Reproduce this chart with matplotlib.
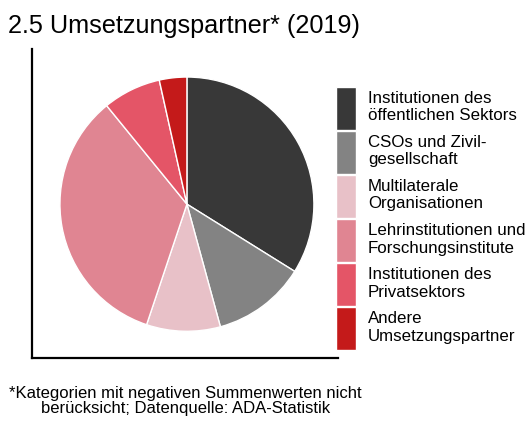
import matplotlib
matplotlib.use("Agg")
import matplotlib.pyplot as plt

plt.rcParams['font.family'] = ['Liberation Sans', 'DejaVu Sans']

# Anteil der Umsetzungspartner in %
categories = [
    "Institutionen des\nöffentlichen Sektors",
    "CSOs und Zivil-\ngesellschaft",
    "Multilaterale\nOrganisationen",
    "Lehrinstitutionen und\nForschungsinstitute",
    "Institutionen des\nPrivatsektors",
    "Andere\nUmsetzungspartner",
]
shares = [33.9, 11.9, 9.4, 34.0, 7.4, 3.5]
colors = ["#383838", "#838383", "#e8c1c8", "#e08592", "#e45567", "#c41a1a"]

fig = plt.figure(figsize=(5.29, 4.23), dpi=100)
ax = fig.add_axes([0.0605, 0.1537, 0.5785, 0.7303])

wedges, _ = ax.pie(shares, colors=colors, startangle=90, counterclock=False,
                   wedgeprops=dict(edgecolor="white", linewidth=1.0))
ax.set_frame_on(True)
ax.set_axis_on()
ax.set_xlim(-1.22, 1.19)
ax.set_ylim(-1.21, 1.22)
ax.set_aspect('auto')
for side in ("top", "right"):
    ax.spines[side].set_visible(False)
for side in ("left", "bottom"):
    ax.spines[side].set_visible(True)
    ax.spines[side].set_linewidth(1.6)
    ax.spines[side].set_color("black")
ax.set_xticks([])
ax.set_yticks([])

fig.text(0.015, 0.922, "2.5 Umsetzungspartner* (2019)", fontsize=18.2,
         ha="left", va="baseline")

fig.legend(wedges, categories, loc="upper left",
           bbox_to_anchor=(0.636, 0.795), frameon=False, fontsize=12.2,
           handlelength=1.18, handleheight=3.55, handletextpad=0.68,
           labelspacing=0.05, borderpad=0, borderaxespad=0)

fig.text(0.35, 0.051,
         "*Kategorien mit negativen Summenwerten nicht\nberücksicht; Datenquelle: ADA-Statistik",
         fontsize=12, ha="center", va="center", linespacing=1.0)

fig.savefig("out.png", dpi=100)
